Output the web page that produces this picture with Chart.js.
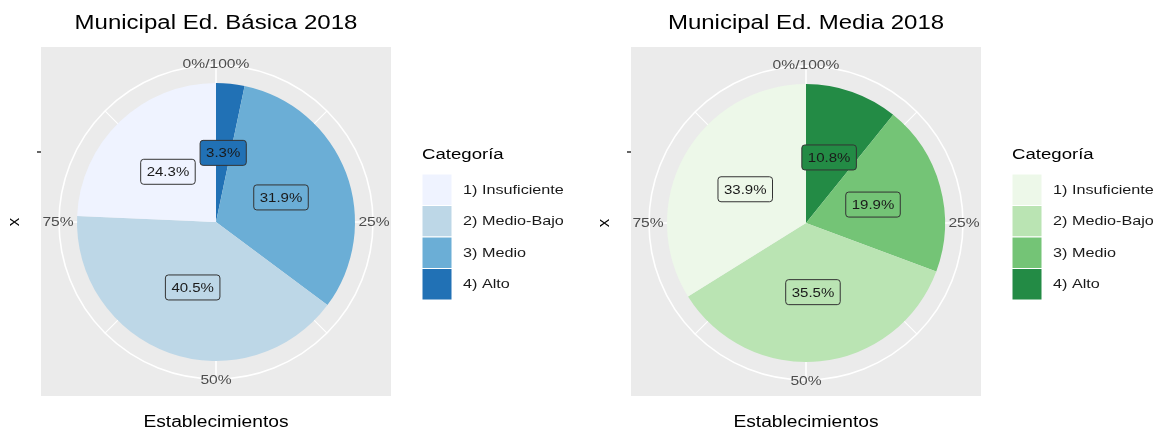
<!DOCTYPE html>
<html>
<head>
<meta charset="utf-8">
<script src="https://cdn.jsdelivr.net/npm/chart.js@4.4.1/dist/chart.umd.min.js"></script>
<style>
  body { margin: 0; background: #fff; }
  #wrap { position: relative; width: 1159px; height: 431px; }
  canvas { position: absolute; top: 0; }
</style>
</head>
<body>
<div id="wrap">
  <canvas id="basica" width="590" height="431" style="left:0"></canvas>
  <canvas id="media" width="569" height="431" style="left:590px"></canvas>
</div>
<script>
// Data (legend order)
const categorias = ['1) Insuficiente', '2) Medio-Bajo', '3) Medio', '4) Alto'];
const basicaPct = [24.3, 40.5, 31.9, 3.3];
const mediaPct = [33.9, 35.5, 19.9, 10.8];
const thetaTicks = ['0%/100%', '25%', '50%', '75%'];
const azules = ['#EFF3FF', '#BDD7E7', '#6BAED6', '#2171B5'];
const verdes = ['#EDF8E9', '#BAE4B3', '#74C476', '#238B45'];

const FONT = '"Liberation Sans", Arial, Helvetica, sans-serif';
// text in the reference renders a bit wider than Liberation Sans
const SX = 1.2;

function textWidth(ctx, txt, size) {
  ctx.save();
  ctx.font = size + 'px ' + FONT;
  const w = ctx.measureText(txt).width * SX;
  ctx.restore();
  return w;
}

function drawText(ctx, txt, x, y, size, align, color) {
  const w = textWidth(ctx, txt, size);
  const left = align === 'center' ? x - w / 2 : x;
  ctx.save();
  ctx.font = size + 'px ' + FONT;
  ctx.fillStyle = color;
  ctx.textAlign = 'left';
  ctx.textBaseline = 'middle';
  ctx.translate(left, y);
  ctx.scale(SX, 1);
  ctx.fillText(txt, 0, 0);
  ctx.restore();
}

/**
 * Draw the ggplot-like polar panel, labels and legend around a pie
 */
const ggPolar = {
  id: 'ggPolar',
  beforeDatasetsDraw(chart, args, opts) {
    const ctx = chart.ctx;
    const arc = chart.getDatasetMeta(0).data[0];
    const cx = arc.x, cy = arc.y;
    const R = arc.outerRadius + 18;

    ctx.save();
    // panel background
    ctx.fillStyle = '#EBEBEB';
    ctx.fillRect(41, 47, 350, 349);

    // spokes every 45 degrees
    ctx.strokeStyle = '#FFFFFF';
    for (let i = 0; i < 8; i++) {
      const a = -Math.PI / 2 + i * Math.PI / 4;
      ctx.lineWidth = i % 2 === 0 ? 1.6 : 1.1;
      ctx.beginPath();
      ctx.moveTo(cx, cy);
      ctx.lineTo(cx + Math.cos(a) * R, cy + Math.sin(a) * R);
      ctx.stroke();
    }
    // outer circle
    ctx.lineWidth = 1.6;
    ctx.beginPath();
    ctx.arc(cx, cy, R, 0, Math.PI * 2);
    ctx.stroke();
    ctx.restore();

    // theta tick labels
    thetaTicks.forEach((t, i) => {
      const a = -Math.PI / 2 + i * Math.PI / 2;
      drawText(ctx, t, cx + Math.cos(a) * (R + 1), cy + Math.sin(a) * (R + 1), 13, 'center', '#4D4D4D');
    });
  },
  afterDatasetsDraw(chart, args, opts) {
    const ctx = chart.ctx;
    const meta = chart.getDatasetMeta(0);
    const ds = chart.data.datasets[0];
    meta.data.forEach((el, i) => {
      const mid = (el.startAngle + el.endAngle) / 2;
      const r = el.outerRadius * 0.5;
      const x = el.x + Math.cos(mid) * r;
      const y = el.y + Math.sin(mid) * r;
      const txt = ds.data[i].toFixed(1) + '%';
      const w = textWidth(ctx, txt, 12.5) + 12;
      const h = 25;
      ctx.save();
      ctx.beginPath();
      ctx.roundRect(x - w / 2, y - h / 2, w, h, 3);
      ctx.fillStyle = ds.backgroundColor[i];
      ctx.fill();
      ctx.lineWidth = 1;
      ctx.strokeStyle = '#333333';
      ctx.stroke();
      ctx.restore();
      drawText(ctx, txt, x, y + 1, 12.5, 'center', '#1A1A1A');
    });
  },
  afterDraw(chart, args, opts) {
    const ctx = chart.ctx;
    const arc = chart.getDatasetMeta(0).data[0];
    const cx = arc.x, cy = arc.y;

    // title
    drawText(ctx, opts.title, cx, 23, 20, 'center', '#000000');

    // x axis title
    drawText(ctx, 'Establecimientos', cx, 423, 16, 'center', '#000000');

    // y axis title and tick
    ctx.save();
    ctx.font = '17px ' + FONT;
    ctx.fillStyle = '#000000';
    ctx.textAlign = 'center';
    ctx.textBaseline = 'middle';
    ctx.translate(14, cy);
    ctx.rotate(-Math.PI / 2);
    ctx.fillText('x', 0, 0);
    ctx.restore();
    ctx.save();
    ctx.strokeStyle = '#333333';
    ctx.lineWidth = 1.5;
    ctx.beginPath();
    ctx.moveTo(37, 152);
    ctx.lineTo(41, 152);
    ctx.stroke();
    ctx.restore();

    // legend
    drawText(ctx, 'Categoría', 422, 155, 15.5, 'left', '#000000');
    opts.labels.forEach((lab, i) => {
      const y = 174 + i * 31.5;
      ctx.save();
      ctx.fillStyle = opts.colors[i];
      ctx.fillRect(422, y, 30, 31.5);
      ctx.strokeStyle = '#FFFFFF';
      ctx.lineWidth = 1;
      ctx.strokeRect(422, y, 30, 31.5);
      ctx.restore();
      drawText(ctx, lab, 463, y + 16, 13.5, 'left', '#1A1A1A');
    });
  }
};

function makePie(id, title, values, colors, cy) {
  const ctx = document.getElementById(id).getContext('2d');
  const W = ctx.canvas.width;
  return new Chart(ctx, {
    type: 'pie',
    data: {
      labels: categorias.slice().reverse(),
      datasets: [{
        data: values.slice().reverse(),
        backgroundColor: colors.slice().reverse(),
        borderWidth: 0,
      }],
    },
    options: {
      responsive: false,
      animation: false,
      layout: {
        padding: { left: 77, right: W - 355, top: cy - 139, bottom: 431 - (cy + 139) },
      },
      plugins: {
        legend: { display: false },
        tooltip: { enabled: false },
        ggPolar: { title: title, labels: categorias, colors: colors },
      },
    },
    plugins: [ggPolar],
  });
}

makePie('basica', 'Municipal Ed. Básica 2018', basicaPct, azules, 222);
makePie('media', 'Municipal Ed. Media 2018', mediaPct, verdes, 223);
</script>
</body>
</html>
